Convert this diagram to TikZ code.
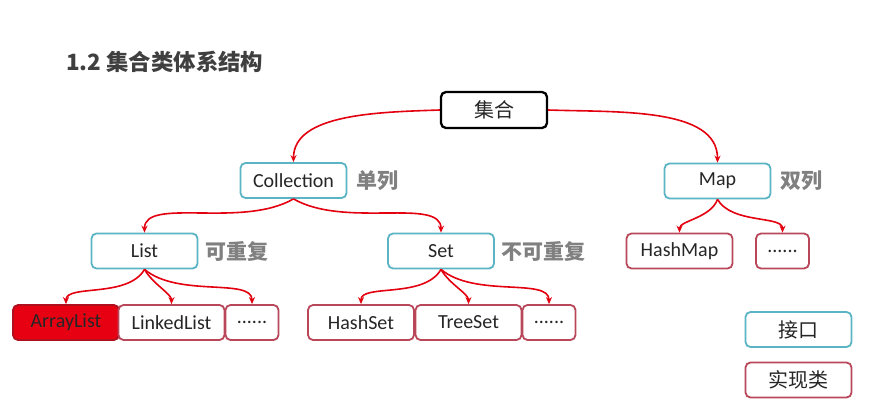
\documentclass[tikz,border=0pt]{standalone}
\usepackage{fontspec}
\setmainfont{Carlito}
\newfontfamily\cjk{Noto Sans CJK SC}
\usetikzlibrary{arrows.meta, positioning}
\definecolor{LinkRed}{HTML}{E3000F}
\definecolor{IfaceTeal}{HTML}{5AB4C4}
\definecolor{ImplRed}{HTML}{B9475A}
\definecolor{HotRed}{HTML}{E60012}
\definecolor{HotEdge}{HTML}{B0101E}
\definecolor{TagGray}{HTML}{808080}
\definecolor{TitleGray}{HTML}{3F3F3F}

\begin{document}
\begin{tikzpicture}[x=1pt, y=-1pt,
  box/.style={rectangle, rounded corners=5pt, line width=1.8pt, fill=white,
     minimum height=35pt, minimum width=106pt, inner sep=0pt, text=black!85,
     font=\fontsize{20}{22}\selectfont},
  root/.style={box, draw=black, line width=2.3pt, minimum height=36pt,
     font=\fontsize{20}{22}\selectfont\cjk},
  iface/.style={box, draw=IfaceTeal},
  impl/.style={box, draw=ImplRed},
  dots/.style={impl, minimum width=53pt},
  tag/.style={inner sep=0pt, text=TagGray, font=\fontsize{21}{23}\selectfont\cjk\bfseries},
  link/.style={draw=LinkRed, line width=1.6pt, -{Stealth[length=7pt,width=6pt]}}]
  \useasboundingbox (0,0) rectangle (874,406);
  \node[anchor=west, inner sep=0pt, text=TitleGray,
     font=\fontsize{22.4}{24}\selectfont\cjk\bfseries] (title) at (66,62) {1.2 集合类体系结构};
  % tree of interfaces
  \node[root] (jihe) at (494,110) {集合};
  \node[iface] (coll) at (293.5,180.5) {Collection};
  \node[iface] (map) at (717.5,181) {Map};
  \node[iface] (list) at (144.5,251) {List};
  \node[iface] (set) at (441,251) {Set};
  % implementing classes
  \node[impl, fill=HotRed, draw=HotEdge] (alist) at (66,322.5) {ArrayList};
  \node[impl] (llist) at (171.5,322.5) {LinkedList};
  \node[dots] (ldots) at (252,322.5) {......};
  \node[impl] (hset) at (361,322.5) {HashSet};
  \node[impl] (tset) at (468.5,322.5) {TreeSet};
  \node[dots] (sdots) at (549,322.5) {......};
  \node[impl] (hmap) at (679.5,251) {HashMap};
  \node[dots] (mdots) at (782.5,251) {......};
  % side tags
  \node[tag, right=9pt of coll] (t1) {单列};
  \node[tag, right=9pt of map] (t2) {双列};
  \node[tag, right=7pt of list] (t3) {可重复};
  \node[tag, right=6pt of set] (t4) {不可重复};
  % legend
  \node[iface, font=\fontsize{20}{22}\selectfont\cjk] (key1) at (798.5,329.5) {接口};
  \node[impl, font=\fontsize{20}{22}\selectfont\cjk] (key2) at (798.5,380) {实现类};
  % links
  \draw[link] (jihe.west) to[out=182,in=90,in looseness=0.8] (coll.north);
  \draw[link] (jihe.east) to[out=-2,in=90,in looseness=0.8] (map.north);
  \draw[link] (coll.south) to[out=-150,in=90,in looseness=0.6] (list.north);
  \draw[link] (coll.south) to[out=-30,in=90,in looseness=0.6] (set.north);
  \draw[link] (list.south) to[out=-120,in=90,in looseness=0.6] (alist.north);
  \draw[link] (list.south) to[out=-60,in=90,in looseness=0.6] (llist.north);
  \draw[link] (list.south) to[out=-40,in=90,in looseness=0.6] (ldots.north);
  \draw[link] (set.south) to[out=-120,in=90,in looseness=0.6] (hset.north);
  \draw[link] (set.south) to[out=-60,in=90,in looseness=0.6] (tset.north);
  \draw[link] (set.south) to[out=-40,in=90,in looseness=0.6] (sdots.north);
  \draw[link] (map.south) to[out=-110,in=90,in looseness=0.6] (hmap.north);
  \draw[link] (map.south) to[out=-60,in=90,in looseness=0.6] (mdots.north);
\end{tikzpicture}
\end{document}
